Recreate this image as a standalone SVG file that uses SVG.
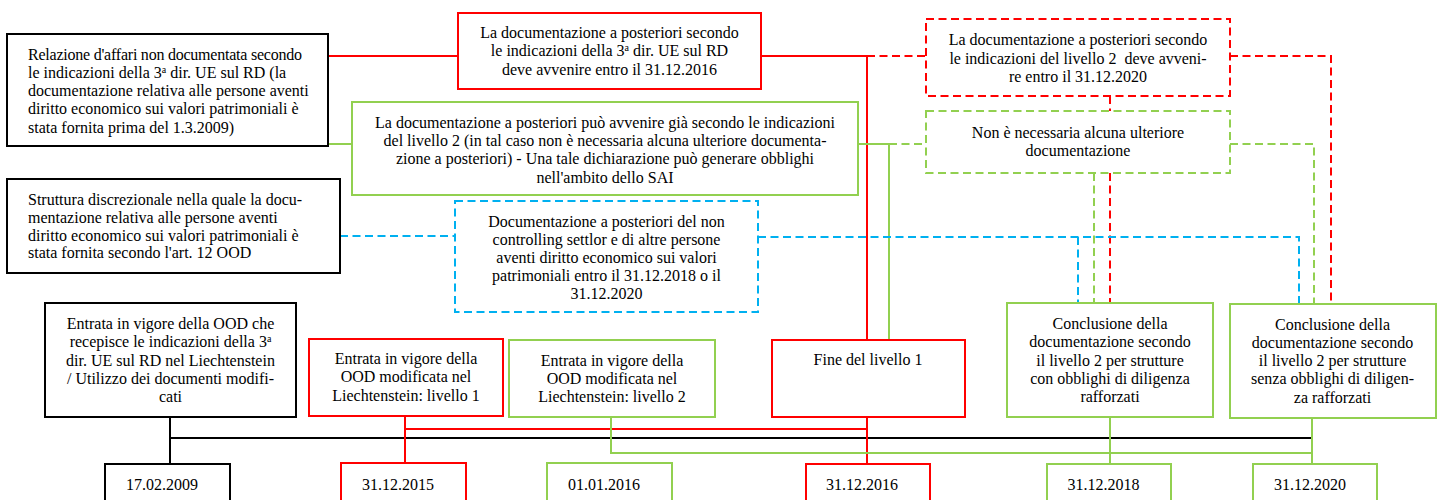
<svg xmlns="http://www.w3.org/2000/svg" width="1443" height="500" viewBox="0 0 1443 500">
<style>
.box{fill:#fff;stroke-width:2}
.k{stroke:#000}.r{stroke:#ff0000}.g{stroke:#92d050}.b{stroke:#00b0f0}
.d{stroke-dasharray:8 4.5}
.ln{fill:none;stroke-width:2}
text{font-family:"Liberation Serif","Times New Roman",serif;font-size:16px;fill:#000}
.c{text-anchor:middle}
.sup{font-size:10px}
</style>
<rect width="1443" height="500" fill="#fff"/>
<g id="connectors">
  <polyline class="ln r" points="328,56 458,56"/>
  <polyline class="ln r" points="761,56 867,56 867,340"/>
  <polyline class="ln r d" points="867,56 926,56"/>
  <polyline class="ln r d" points="1230,56 1331,56 1331,304"/>
  <polyline class="ln r d" points="1110,96 1110,111"/>
  <polyline class="ln r d" points="1110,173 1110,303"/>
  <polyline class="ln g" points="328,144 352,144"/>
  <polyline class="ln g" points="858,144 889,144 889,340"/>
  <polyline class="ln g d" points="889,144 926,144"/>
  <polyline class="ln g d" points="1230,144 1314,144 1314,304"/>
  <polyline class="ln g d" points="1094,173 1094,303"/>
  <polyline class="ln b d" points="340,236 455,236"/>
  <polyline class="ln b d" points="758,237 1299,237 1299,304"/>
  <polyline class="ln b d" points="1078,237 1078,303"/>
  <polyline class="ln k" points="170,417 170,464"/>
  <polyline class="ln k" points="170,438 1312,438"/>
  <polyline class="ln r" points="405,416 405,463"/>
  <polyline class="ln r" points="405,429 867,429"/>
  <polyline class="ln r" points="867,417 867,464"/>
  <polyline class="ln g" points="611,417 611,453 1312,453"/>
  <polyline class="ln g" points="1110,417 1110,464"/>
  <polyline class="ln g" points="1312,418 1312,464"/>
</g>
<g id="nodeA">
  <rect class="box k" x="7" y="34" width="321" height="112"/>
  <text x="28" y="59.5" textLength="274" lengthAdjust="spacing">Relazione d'affari non documentata secondo</text>
  <text x="28" y="77.8">le indicazioni della 3<tspan class="sup" baseline-shift="super">a</tspan> dir. UE sul RD (la</text>
  <text x="28" y="96.1">documentazione relativa alle persone aventi</text>
  <text x="28" y="114.4">diritto economico sui valori patrimoniali è</text>
  <text x="28" y="132.7">stata fornita prima del 1.3.2009)</text>
</g>
<g id="nodeB">
  <rect class="box r" x="458" y="13" width="303" height="76"/>
  <text class="c" x="609.5" y="37.5">La documentazione a posteriori secondo</text>
  <text class="c" x="609.5" y="56">le indicazioni della 3<tspan class="sup" baseline-shift="super">a</tspan> dir. UE sul RD</text>
  <text class="c" x="609.5" y="74.5">deve avvenire entro il 31.12.2016</text>
</g>
<g id="nodeC">
  <rect class="box r d" x="926" y="19" width="304" height="77"/>
  <text class="c" x="1078" y="45">La documentazione a posteriori secondo</text>
  <text class="c" x="1078" y="63.5" xml:space="preserve">le indicazioni del livello 2  deve avveni-</text>
  <text class="c" x="1078" y="82">re entro il 31.12.2020</text>
</g>
<g id="nodeD">
  <rect class="box g" x="352" y="102" width="506" height="93"/>
  <text class="c" x="605" y="127.5">La documentazione a posteriori può avvenire già secondo le indicazioni</text>
  <text class="c" x="605" y="146">del livello 2 (in tal caso non è necessaria alcuna ulteriore documenta-</text>
  <text class="c" x="605" y="164.3">zione a posteriori) - Una tale dichiarazione può generare obblighi</text>
  <text class="c" x="605" y="182.6">nell'ambito dello SAI</text>
</g>
<g id="nodeE">
  <rect class="box g d" x="926" y="111" width="304" height="62"/>
  <text class="c" x="1078" y="137.5">Non è necessaria alcuna ulteriore</text>
  <text class="c" x="1078" y="156">documentazione</text>
</g>
<g id="nodeF">
  <rect class="box k" x="7" y="179" width="333" height="94"/>
  <text x="28" y="205">Struttura discrezionale nella quale la docu-</text>
  <text x="28" y="222.8">mentazione relativa alle persone aventi</text>
  <text x="28" y="240.5">diritto economico sui valori patrimoniali è</text>
  <text x="28" y="258.3">stata fornita secondo l'art. 12 OOD</text>
</g>
<g id="nodeG">
  <rect class="box b d" x="455" y="201" width="303" height="111"/>
  <text class="c" x="606.5" y="226.5">Documentazione a posteriori del non</text>
  <text class="c" x="606.5" y="244.7">controlling settlor e di altre persone</text>
  <text class="c" x="606.5" y="262.9">aventi diritto economico sui valori</text>
  <text class="c" x="606.5" y="281.1">patrimoniali entro il 31.12.2018 o il</text>
  <text class="c" x="606.5" y="299.3">31.12.2020</text>
</g>
<g id="nodeH">
  <rect class="box k" x="45" y="303" width="251" height="114"/>
  <text class="c" x="170.5" y="329">Entrata in vigore della OOD che</text>
  <text class="c" x="170.5" y="347.3">recepisce le indicazioni della 3<tspan class="sup" baseline-shift="super">a</tspan></text>
  <text class="c" x="170.5" y="365.6">dir. UE sul RD nel Liechtenstein</text>
  <text class="c" x="170.5" y="383.9">/ Utilizzo dei documenti modifi-</text>
  <text class="c" x="170.5" y="402.2">cati</text>
</g>
<g id="nodeI">
  <rect class="box r" x="309" y="339" width="194" height="77"/>
  <text class="c" x="406" y="364">Entrata in vigore della</text>
  <text class="c" x="406" y="382.3">OOD modificata nel</text>
  <text class="c" x="406" y="400.6">Liechtenstein: livello 1</text>
</g>
<g id="nodeJ">
  <rect class="box g" x="509" y="340" width="206" height="77"/>
  <text class="c" x="612" y="365.5">Entrata in vigore della</text>
  <text class="c" x="612" y="383.8">OOD modificata nel</text>
  <text class="c" x="612" y="402.1">Liechtenstein: livello 2</text>
</g>
<g id="nodeK">
  <rect class="box r" x="772" y="340" width="193" height="77"/>
  <text class="c" x="868" y="365">Fine del livello 1</text>
</g>
<g id="nodeL">
  <rect class="box g" x="1007" y="303" width="206" height="114"/>
  <text class="c" x="1110" y="329">Conclusione della</text>
  <text class="c" x="1110" y="347.3">documentazione secondo</text>
  <text class="c" x="1110" y="365.6">il livello 2 per strutture</text>
  <text class="c" x="1110" y="383.9">con obblighi di diligenza</text>
  <text class="c" x="1110" y="402.2">rafforzati</text>
</g>
<g id="nodeM">
  <rect class="box g" x="1230" y="304" width="206" height="114"/>
  <text class="c" x="1332.5" y="329.5">Conclusione della</text>
  <text class="c" x="1332.5" y="347.8">documentazione secondo</text>
  <text class="c" x="1332.5" y="366.1">il livello 2 per strutture</text>
  <text class="c" x="1332.5" y="384.4">senza obblighi di diligen-</text>
  <text class="c" x="1332.5" y="402.7">za rafforzati</text>
</g>
<g id="date2009">
  <rect class="box k" x="105" y="464" width="125" height="50"/>
  <text class="c" x="162" y="490">17.02.2009</text>
</g>
<g id="date2015">
  <rect class="box r" x="341" y="463" width="125" height="50"/>
  <text class="c" x="398" y="490">31.12.2015</text>
</g>
<g id="date2016a">
  <rect class="box g" x="547" y="463" width="125" height="50"/>
  <text class="c" x="604" y="490">01.01.2016</text>
</g>
<g id="date2016b">
  <rect class="box r" x="806" y="464" width="124" height="50"/>
  <text class="c" x="862" y="490">31.12.2016</text>
</g>
<g id="date2018">
  <rect class="box g" x="1047" y="464" width="124" height="50"/>
  <text class="c" x="1103.5" y="490">31.12.2018</text>
</g>
<g id="date2020">
  <rect class="box g" x="1253" y="464" width="124" height="50"/>
  <text class="c" x="1310" y="490">31.12.2020</text>
</g>
</svg>
